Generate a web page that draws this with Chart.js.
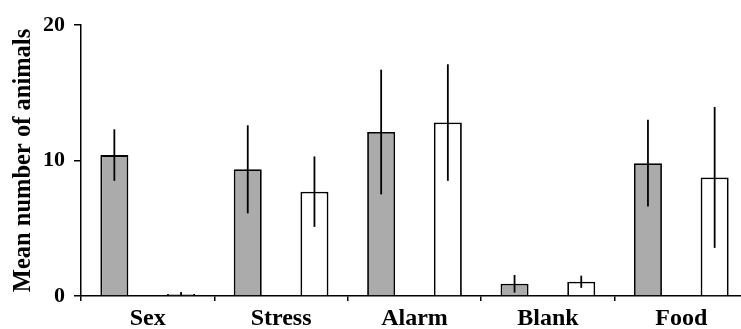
<!DOCTYPE html>
<html>
<head>
<meta charset="utf-8">
<script src="https://cdn.jsdelivr.net/npm/chart.js@4/dist/chart.umd.min.js"></script>
<style>
html,body{margin:0;padding:0;background:#fff;overflow:hidden;}
#wrap{width:741px;height:329px;position:relative;overflow:hidden;}
#c{display:block;}
</style>
</head>
<body>
<div id="wrap"><canvas id="c" width="748" height="329"></canvas></div>
<script>
const categories = ["Sex", "Stress", "Alarm", "Blank", "Food"];
const grayMeans = [10.4, 9.35, 12.1, 0.9, 9.8];
const grayErrors = [1.9, 3.25, 4.6, 0.65, 3.2];
const whiteMeans = [0.15, 7.7, 12.8, 1.05, 8.75];
const whiteErrors = [0.15, 2.6, 4.3, 0.45, 5.2];
const yTicks = [0, 10, 20];

const errorBarPlugin = {
  id: 'errorBars',
  afterDatasetsDraw(chart) {
    const ctx = chart.ctx;
    const yScale = chart.scales.y;
    ctx.save();
    ctx.strokeStyle = '#000';
    ctx.lineWidth = 1.8;
    chart.data.datasets.forEach((ds, i) => {
      const meta = chart.getDatasetMeta(i);
      meta.data.forEach((bar, j) => {
        const v = ds.data[j], e = ds.errors[j];
        const y1 = yScale.getPixelForValue(v + e);
        const y2 = yScale.getPixelForValue(Math.max(0, v - e));
        ctx.beginPath();
        ctx.moveTo(bar.x, y1);
        ctx.lineTo(bar.x, y2);
        ctx.stroke();
      });
    });
    ctx.restore();
  }
};

const serif = "'Liberation Serif', 'Times New Roman', serif";

new Chart(document.getElementById('c'), {
  type: 'bar',
  data: {
    labels: categories,
    datasets: [
      { data: grayMeans, errors: grayErrors, backgroundColor: '#ababab', borderColor: '#000', borderWidth: 1.8,
        categoryPercentage: 1.0, barPercentage: 0.42 },
      { data: whiteMeans, errors: whiteErrors, backgroundColor: '#ffffff', borderColor: '#000', borderWidth: 1.8,
        categoryPercentage: 1.0, barPercentage: 0.42 }
    ]
  },
  options: {
    responsive: false,
    animation: false,
    devicePixelRatio: 1,
    layout: { padding: { top: 25, right: 0, bottom: 0, left: 0 } },
    plugins: { legend: { display: false }, tooltip: { enabled: false } },
    scales: {
      x: {
        afterFit: s => { s.height = 33; },
        grid: { display: true, drawOnChartArea: false, drawTicks: true, tickLength: 5, color: '#000', lineWidth: 1.5, offset: true },
        border: { display: true, color: '#000', width: 1.5 },
        ticks: { color: '#000', padding: 3, font: { family: serif, weight: 'bold', size: 24 }, maxRotation: 0 }
      },
      y: {
        min: 0, max: 20,
        afterFit: s => { s.width = 81; },
        afterBuildTicks: s => { s.ticks = yTicks.map(v => ({ value: v })); },
        grid: { display: true, drawOnChartArea: false, drawTicks: true, tickLength: 7, color: '#000', lineWidth: 1.5 },
        border: { display: true, color: '#000', width: 1.5 },
        ticks: { color: '#000', padding: 9, font: { family: serif, weight: 'bold', size: 22 } },
        title: { display: true, text: 'Mean number of animals', color: '#000', padding: { top: 9, bottom: 0 },
          font: { family: serif, weight: 'bold', size: 24.5 } }
      }
    }
  },
  plugins: [errorBarPlugin]
});
</script>
</body>
</html>
